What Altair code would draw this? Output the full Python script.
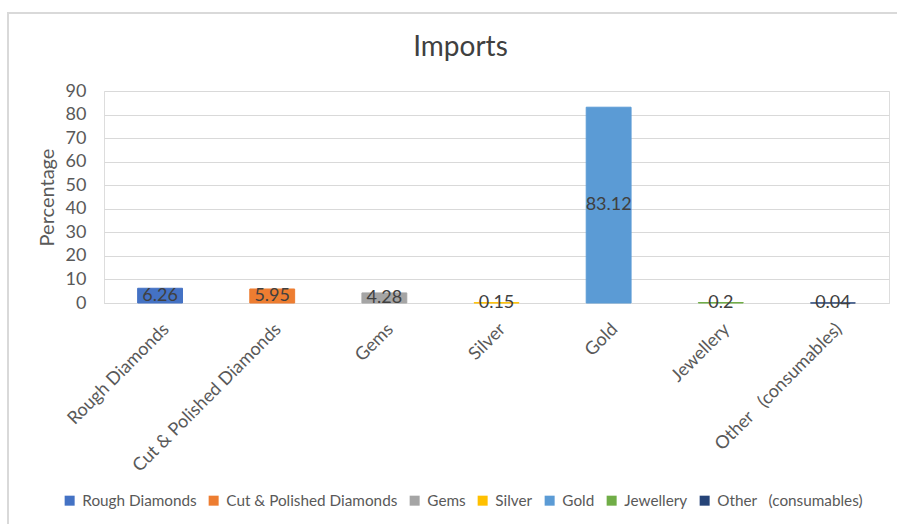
import altair as alt
import pandas as pd

categories = ["Rough Diamonds", "Cut & Polished Diamonds", "Gems", "Silver", "Gold", "Jewellery", "Other \u00a0\u00a0(consumables)"]
values = [6.26, 5.95, 4.28, 0.15, 83.12, 0.2, 0.04]
colors = ["#4472C4", "#ED7D31", "#A5A5A5", "#FFC000", "#5B9BD5", "#70AD47", "#264478"]
y_ticks = [0, 10, 20, 30, 40, 50, 60, 70, 80, 90]

df = pd.DataFrame({"cat": categories, "val": values})
df["mid"] = df["val"] / 2
df["lbl"] = [f"{v:g}" for v in values]

FONT = "Lato"

xenc = alt.X("cat:N", sort=categories, title=None,
             scale=alt.Scale(paddingInner=0.6, paddingOuter=0.3),
             axis=alt.Axis(labelAngle=-45, labelFontSize=18, labelColor="#595959",
                           labelFont=FONT, ticks=False, domain=True, domainColor="#D9D9D9",
                           labelPadding=17, labelAlign="right", labelBaseline="top", labelLimit=300))

yscale = alt.Scale(domain=[0, 90], nice=False)
yaxis = alt.Axis(values=y_ticks, grid=True, gridColor="#D9D9D9", ticks=False, domain=False,
                 labelOverlap=False,
                 labelFontSize=18, labelColor="#595959", labelFont=FONT, labelPadding=18,
                 titleFontSize=20, titleColor="#595959", titleFont=FONT, titleFontWeight="normal",
                 titlePadding=8)

cscale = alt.Scale(domain=categories, range=colors)

bars = alt.Chart(df).mark_bar(strokeWidth=1).encode(
    x=xenc,
    y=alt.Y("val:Q", title="Percentage", scale=yscale, axis=yaxis),
    color=alt.Color("cat:N", sort=categories, scale=cscale,
                    legend=alt.Legend(title=None, orient="none", direction="horizontal",
                                      legendX=-42, legendY=402, symbolType="square", symbolSize=100,
                                      symbolStrokeWidth=0, labelFontSize=15.3, labelColor="#595959",
                                      labelFont=FONT, columnPadding=9, labelOffset=5, labelLimit=300)),
    stroke=alt.Stroke("cat:N", sort=categories, scale=cscale, legend=None),
)

text = alt.Chart(df).mark_text(fontSize=18, color="#404040", font=FONT, baseline="middle").encode(
    x=alt.X("cat:N", sort=categories),
    y=alt.Y("mid:Q", title="Percentage", scale=yscale, axis=yaxis),
    text="lbl:N",
)

border = alt.Chart(df).mark_rect(fill=None, stroke="#D9D9D9", strokeWidth=1.5).encode(
    x=alt.value(-96), x2=alt.value(900), y=alt.value(-78), y2=alt.value(500)
)

chart = alt.layer(border, bars, text).properties(
    width=785, height=212,
    title=alt.TitleParams("Imports", fontSize=28, font=FONT, fontWeight="normal", color="#404040",
                          anchor="middle", offset=0, dy=50, dx=-36),
    autosize=alt.AutoSizeParams(type="none"),
    padding={"left": 104, "top": 91, "right": 8, "bottom": 221},
).configure_view(stroke=None).configure(background="white")

chart.save("out.html", embed_options={"renderer": "svg", "actions": False})
